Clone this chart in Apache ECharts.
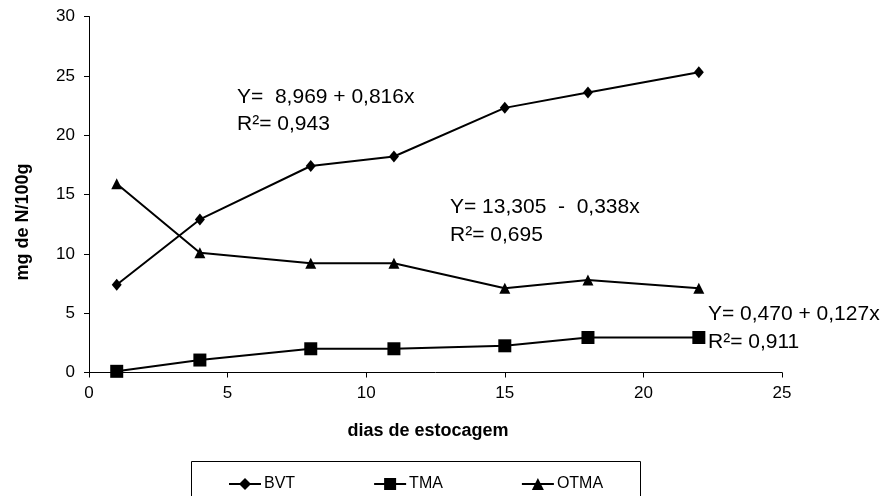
<!DOCTYPE html>
<html>
<head>
<meta charset="utf-8">
<script src="https://cdn.jsdelivr.net/npm/echarts@6/dist/echarts.min.js"></script>
<style>
html,body{margin:0;padding:0;background:#fff;}
#chart{width:891px;height:496px;}
</style>
</head>
<body>
<div id="chart"></div>
<script>
var days = [1, 4, 8, 11, 15, 18, 22];
var bvt  = [7.4, 12.9, 17.4, 18.2, 22.3, 23.6, 25.3];
var tma  = [0.1, 1.05, 2.0, 2.0, 2.25, 2.95, 2.95];
var otma = [15.9, 10.1, 9.2, 9.2, 7.1, 7.8, 7.1];
var seriesNames = ['BVT', 'TMA', 'OTMA'];
var xTitle = 'dias de estocagem';
var yTitle = 'mg de N/100g';
var eq = [
  ['Y=  8,969 + 0,816x', 'R\u00b2= 0,943'],
  ['Y= 13,305  -  0,338x', 'R\u00b2= 0,695'],
  ['Y= 0,470 + 0,127x', 'R\u00b2= 0,911']
];

function pairs(ys){ return days.map(function(d,i){ return [d, ys[i]]; }); }

var FONT = '"Liberation Sans", Arial, sans-serif';
var chart = echarts.init(document.getElementById('chart'), null, {renderer:'canvas'});

function lineSeries(name, ys, symbol, size){
  return {
    name: name, type: 'line', data: pairs(ys),
    symbol: symbol, symbolSize: size,
    lineStyle: {color:'#000', width:2},
    itemStyle: {color:'#000'},
    animation: false
  };
}

var txt = function(x, y, s, size){
  return {type:'text', x:x, y:y, style:{text:s, font:size+'px '+FONT, fill:'#000', textAlign:'left', textVerticalAlign:'middle'}};
};

chart.setOption({
  animation: false,
  grid: {left: 89, right: 109, top: 16.5, bottom: 123.5},
  xAxis: {
    type: 'value', min: 0, max: 25, interval: 5,
    axisLine: {show:true, lineStyle:{color:'#000', width:1}},
    axisTick: {show:true, length:5, lineStyle:{color:'#000'}},
    axisLabel: {color:'#000', fontSize:17, fontFamily:FONT, margin:12},
    splitLine: {show:false}
  },
  yAxis: {
    type: 'value', min: 0, max: 30, interval: 5,
    axisLine: {show:true, lineStyle:{color:'#000', width:1}},
    axisTick: {show:true, length:5, lineStyle:{color:'#000'}},
    axisLabel: {color:'#000', fontSize:17, fontFamily:FONT, margin:14},
    splitLine: {show:false}
  },
  legend: {
    left: 223, top: 471, itemGap: 78, itemWidth: 32, itemHeight: 15,
    data: seriesNames,
    textStyle: {color:'#000', fontSize:16, fontFamily:FONT, padding:[0,0,0,-2]}
  },
  series: [
    lineSeries(seriesNames[0], bvt, 'diamond', [10,12]),
    lineSeries(seriesNames[1], tma, 'rect', 13),
    lineSeries(seriesNames[2], otma, 'triangle', 11)
  ],
  graphic: [
    {type:'rect', shape:{x:191.5, y:461.5, width:449, height:40}, style:{fill:'none', stroke:'#000', lineWidth:1}},
    txt(237, 97, eq[0][0], 21), txt(237, 124, eq[0][1], 21),
    txt(450, 207, eq[1][0], 21), txt(450, 235, eq[1][1], 21),
    txt(708, 314, eq[2][0], 21), txt(708, 342, eq[2][1], 21),
    {type:'text', x:428, y:431, style:{text:xTitle, font:'bold 18px '+FONT, fill:'#000', textAlign:'center', textVerticalAlign:'middle'}},
    {type:'text', x:23, y:222, rotation:Math.PI/2, style:{text:yTitle, font:'bold 18px '+FONT, fill:'#000', textAlign:'center', textVerticalAlign:'middle'}}
  ]
});
</script>
</body>
</html>
